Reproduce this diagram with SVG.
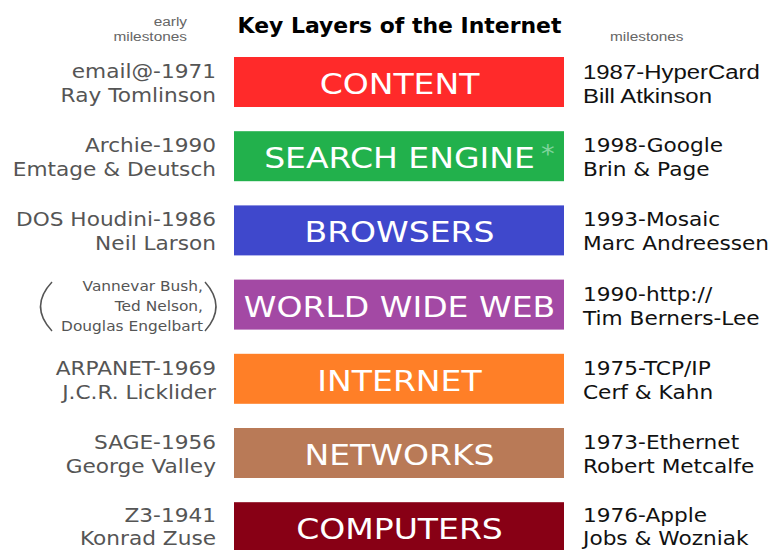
<svg xmlns="http://www.w3.org/2000/svg" width="771" height="550" viewBox="0 0 771 550">
<style>
.bg{fill:#fff}
.lbl{font-family:"DejaVu Sans",Verdana,sans-serif;font-size:29px;fill:#fff;text-anchor:middle}
.left{font-family:"DejaVu Sans",Verdana,sans-serif;font-size:19px;fill:#555;text-anchor:end}
.right{font-family:"DejaVu Sans",Verdana,sans-serif;font-size:19px;fill:#111}
.rarial{font-family:"Liberation Sans",Arial,sans-serif;font-size:21px;fill:#111}
.small{font-family:"Liberation Sans",Arial,sans-serif;font-size:13.5px;fill:#666}
.names{font-family:"DejaVu Sans",Verdana,sans-serif;font-size:13.5px;fill:#555;text-anchor:end}
.title{font-family:"DejaVu Sans",Verdana,sans-serif;font-weight:bold;font-size:20.5px;fill:#000;text-anchor:middle}
.paren{fill:none;stroke:#555;stroke-width:1.5}
</style>
<rect class="bg" x="0" y="0" width="771" height="550"/>
<g id="header">
<text class="title" transform="translate(399.5,33) scale(1.07,1)">Key Layers of the Internet</text>
<text class="small" text-anchor="end" transform="translate(187,26) scale(1.14,1)">early</text>
<text class="small" text-anchor="end" transform="translate(187,41) scale(1.14,1)">milestones</text>
<text class="small" transform="translate(610,41) scale(1.14,1)">milestones</text>
</g>
<g id="connectors"></g>
<g id="content">
<rect x="234" y="57" width="330" height="50" fill="#ff2a2a"/>
<text class="lbl" transform="translate(399.5,94) scale(1.14,1)">CONTENT</text>
</g>
<g id="search-engine">
<rect x="234" y="131.2" width="330" height="50" fill="#22b14c"/>
<text class="lbl" transform="translate(399.5,168.2) scale(1.14,1)">SEARCH ENGINE</text>
<text transform="translate(541,162) scale(1.14,1)" font-family="DejaVu Sans,sans-serif" font-size="24" fill="#7fd49c">*</text>
</g>
<g id="browsers">
<rect x="234" y="205.4" width="330" height="50" fill="#3f48cc"/>
<text class="lbl" transform="translate(399.5,242.4) scale(1.14,1)">BROWSERS</text>
</g>
<g id="www">
<rect x="234" y="279.6" width="330" height="50" fill="#a349a4"/>
<text class="lbl" transform="translate(399.5,316.6) scale(1.14,1)">WORLD WIDE WEB</text>
</g>
<g id="internet">
<rect x="234" y="353.8" width="330" height="50" fill="#ff7f27"/>
<text class="lbl" transform="translate(399.5,390.8) scale(1.14,1)">INTERNET</text>
</g>
<g id="networks">
<rect x="234" y="428" width="330" height="50" fill="#b97a57"/>
<text class="lbl" transform="translate(399.5,465) scale(1.14,1)">NETWORKS</text>
</g>
<g id="computers">
<rect x="234" y="502.2" width="330" height="50" fill="#880015"/>
<text class="lbl" transform="translate(399.5,539.2) scale(1.14,1)">COMPUTERS</text>
</g>
<g id="early-milestones">
<text class="left" transform="translate(216,78) scale(1.14,1)">email@-1971</text>
<text class="left" transform="translate(216,102) scale(1.14,1)">Ray Tomlinson</text>
<text class="left" transform="translate(216,152.2) scale(1.14,1)">Archie-1990</text>
<text class="left" transform="translate(216,176.2) scale(1.14,1)">Emtage &amp; Deutsch</text>
<text class="left" transform="translate(216,226.4) scale(1.14,1)">DOS Houdini-1986</text>
<text class="left" transform="translate(216,250.4) scale(1.14,1)">Neil Larson</text>
<text class="names" transform="translate(203,291) scale(1.14,1)">Vannevar Bush,</text>
<text class="names" transform="translate(203,311) scale(1.14,1)">Ted Nelson,</text>
<text class="names" transform="translate(203,331) scale(1.14,1)">Douglas Engelbart</text>
<path class="paren" d="M52 282 Q29 306.5 52 331"/>
<path class="paren" d="M205 282 Q227 306.5 205 331"/>
<text class="left" transform="translate(216,374.8) scale(1.14,1)">ARPANET-1969</text>
<text class="left" transform="translate(216,398.8) scale(1.14,1)">J.C.R. Licklider</text>
<text class="left" transform="translate(216,449) scale(1.14,1)">SAGE-1956</text>
<text class="left" transform="translate(216,473) scale(1.14,1)">George Valley</text>
<text class="left" transform="translate(216,522) scale(1.14,1)">Z3-1941</text>
<text class="left" transform="translate(216,545) scale(1.14,1)">Konrad Zuse</text>
</g>
<g id="milestones">
<text class="rarial" transform="translate(583,79) scale(1.14,1)">1987-HyperCard</text>
<text class="rarial" transform="translate(583,103) scale(1.14,1)">Bill Atkinson</text>
<text class="right" transform="translate(583,152.2) scale(1.14,1)">1998-Google</text>
<text class="right" transform="translate(583,176.2) scale(1.14,1)">Brin &amp; Page</text>
<text class="right" transform="translate(583,226.4) scale(1.14,1)">1993-Mosaic</text>
<text class="right" transform="translate(583,250.4) scale(1.14,1)">Marc Andreessen</text>
<text class="right" transform="translate(583,300.6) scale(1.14,1)">1990-http://</text>
<text class="right" transform="translate(583,324.6) scale(1.14,1)">Tim Berners-Lee</text>
<text class="right" transform="translate(583,374.8) scale(1.14,1)">1975-TCP/IP</text>
<text class="right" transform="translate(583,398.8) scale(1.14,1)">Cerf &amp; Kahn</text>
<text class="right" transform="translate(583,449) scale(1.14,1)">1973-Ethernet</text>
<text class="right" transform="translate(583,473) scale(1.14,1)">Robert Metcalfe</text>
<text class="right" transform="translate(583,522) scale(1.14,1)">1976-Apple</text>
<text class="right" transform="translate(583,545) scale(1.14,1)">Jobs &amp; Wozniak</text>
</g>
</svg>
